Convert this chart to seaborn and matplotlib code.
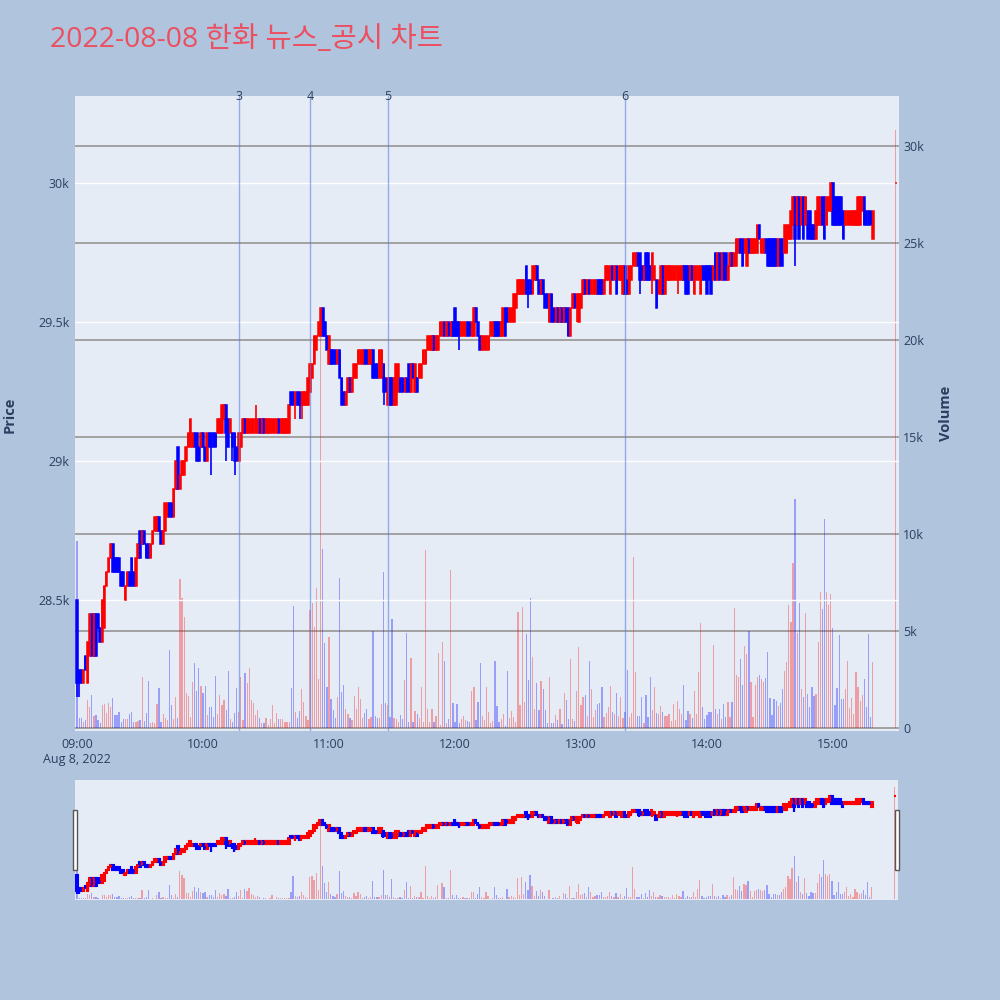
import numpy as np
import pandas as pd
import matplotlib
matplotlib.use('Agg')
import matplotlib.pyplot as plt
import matplotlib.transforms as mtransforms
import seaborn as sns
from matplotlib.patches import Rectangle

# ---- chart text / axes values ----
title = '2022-08-08 한화 뉴스_공시 차트'
hour_ticks = [0, 60, 120, 180, 240, 300, 360]
hour_labels = ['09:00\nAug 8, 2022', '10:00', '11:00', '12:00', '13:00', '14:00', '15:00']
price_ticks = [28500, 29000, 29500, 30000]
price_labels = ['28.5k', '29k', '29.5k', '30k']
vol_ticks = [0, 5000, 10000, 15000, 20000, 25000, 30000]
vol_labels = ['0', '5k', '10k', '15k', '20k', '25k', '30k']
news_minutes = [77, 111, 148, 261]
news_labels = ['3', '4', '5', '6']

# ---- 1-minute candles from 09:00 (minute 0) ----
opens = [
    28500, 28250, 28250, 28200, 28300, 28200, 28300, 28450, 28300, 28450,
    28450, 28400, 28350, 28400, 28550, 28600, 28650, 28700, 28650, 28650,
    28650, 28600, 28600, 28500, 28550, 28600, 28650, 28600, 28550, 28650,
    28750, 28700, 28750, 28700, 28700, 28650, 28700, 28750, 28750, 28800,
    28750, 28700, 28750, 28800, 28850, 28850, 28800, 28900, 29050, 28900,
    28950, 28950, 29000, 29050, 29050, 29050, 29100, 29100, 29050, 29050,
    29100, 29050, 29000, 29100, 29100, 29100, 29100, 29100, 29100, 29100,
    29150, 29200, 29150, 29100, 29100, 29100, 29050, 29000, 29050, 29100,
    29150, 29100, 29100, 29100, 29100, 29100, 29100, 29150, 29100, 29150,
    29100, 29100, 29100, 29100, 29100, 29100, 29150, 29100, 29100, 29100,
    29100, 29100, 29250, 29250, 29200, 29250, 29250, 29200, 29200, 29200,
    29200, 29250, 29300, 29350, 29400, 29450, 29450, 29550, 29500, 29450,
    29350, 29400, 29400, 29400, 29350, 29400, 29300, 29250, 29200, 29250,
    29300, 29250, 29300, 29300, 29350, 29350, 29350, 29400, 29400, 29350,
    29350, 29400, 29350, 29350, 29300, 29300, 29350, 29300, 29200, 29300,
    29300, 29200, 29200, 29250, 29300, 29300, 29250, 29300, 29350, 29250,
    29350, 29250, 29300, 29300, 29300, 29350, 29350, 29400, 29400, 29400,
    29450, 29400, 29400, 29450, 29450, 29500, 29450, 29500, 29450, 29500,
    29550, 29500, 29500, 29450, 29450, 29450, 29500, 29500, 29450, 29450,
    29550, 29500, 29450, 29400, 29400, 29400, 29400, 29450, 29450, 29500,
    29500, 29500, 29450, 29450, 29550, 29550, 29500, 29500, 29500, 29550,
    29600, 29600, 29600, 29600, 29700, 29650, 29650, 29600, 29650, 29700,
    29650, 29600, 29650, 29600, 29600, 29500, 29600, 29550, 29500, 29550,
    29500, 29550, 29500, 29550, 29550, 29450, 29550, 29600, 29550, 29500,
    29550, 29600, 29650, 29600, 29650, 29600, 29600, 29600, 29650, 29650,
    29650, 29600, 29650, 29650, 29600, 29700, 29650, 29700, 29650, 29650,
    29600, 29700, 29650, 29600, 29650, 29700, 29700, 29750, 29750, 29700,
    29650, 29750, 29750, 29700, 29650, 29650, 29650, 29600, 29600, 29700,
    29600, 29650, 29650, 29650, 29650, 29650, 29650, 29650, 29650, 29700,
    29700, 29700, 29650, 29700, 29600, 29650, 29650, 29600, 29700, 29700,
    29700, 29700, 29700, 29650, 29750, 29650, 29750, 29650, 29750, 29750,
    29650, 29700, 29750, 29700, 29700, 29750, 29800, 29800, 29750, 29700,
    29800, 29750, 29750, 29750, 29750, 29850, 29750, 29750, 29800, 29800,
    29800, 29800, 29800, 29800, 29700, 29800, 29800, 29750, 29750, 29800,
    29800, 29850, 29950, 29850, 29950, 29850, 29950, 29850, 29900, 29900,
    29850, 29850, 29800, 29850, 29850, 29950, 29950, 29850, 29900, 29900,
    30000, 29950, 29950, 29950, 29950, 29900, 29850, 29850, 29850, 29850,
    29850, 29850, 29850, 29850, 29900, 29950, 29900, 29900, 29900, 29800,
]
closes = [
    28200, 28200, 28200, 28250, 28250, 28350, 28450, 28300, 28450, 28300,
    28400, 28350, 28500, 28550, 28600, 28650, 28700, 28600, 28600, 28600,
    28600, 28550, 28550, 28550, 28600, 28550, 28550, 28550, 28650, 28700,
    28650, 28750, 28700, 28650, 28650, 28700, 28750, 28800, 28800, 28750,
    28700, 28750, 28850, 28850, 28800, 28800, 28900, 29000, 28900, 28950,
    29000, 29000, 29050, 29100, 29150, 29100, 29050, 29000, 29000, 29100,
    29050, 29000, 29100, 29050, 29050, 29050, 29050, 29150, 29150, 29200,
    29200, 29100, 29050, 29150, 29050, 29000, 29000, 29100, 29100, 29150,
    29100, 29150, 29150, 29150, 29150, 29150, 29150, 29100, 29150, 29100,
    29150, 29150, 29150, 29150, 29150, 29150, 29100, 29150, 29150, 29150,
    29150, 29200, 29200, 29200, 29250, 29200, 29200, 29250, 29250, 29250,
    29300, 29350, 29350, 29450, 29450, 29500, 29550, 29450, 29450, 29400,
    29450, 29350, 29350, 29350, 29400, 29300, 29200, 29200, 29250, 29300,
    29250, 29300, 29350, 29350, 29400, 29400, 29400, 29350, 29350, 29400,
    29400, 29300, 29300, 29300, 29400, 29400, 29250, 29250, 29300, 29200,
    29200, 29300, 29350, 29350, 29250, 29250, 29300, 29250, 29250, 29350,
    29300, 29350, 29250, 29350, 29350, 29400, 29400, 29450, 29450, 29450,
    29400, 29450, 29450, 29500, 29500, 29450, 29500, 29450, 29500, 29450,
    29450, 29450, 29450, 29500, 29500, 29500, 29450, 29450, 29500, 29550,
    29500, 29450, 29400, 29450, 29450, 29450, 29450, 29500, 29500, 29450,
    29450, 29450, 29500, 29550, 29450, 29500, 29550, 29550, 29600, 29600,
    29650, 29650, 29650, 29650, 29600, 29600, 29600, 29700, 29700, 29650,
    29600, 29650, 29600, 29550, 29550, 29600, 29500, 29500, 29550, 29500,
    29550, 29500, 29550, 29500, 29450, 29550, 29600, 29550, 29600, 29600,
    29600, 29650, 29600, 29650, 29600, 29650, 29650, 29650, 29600, 29600,
    29600, 29650, 29700, 29700, 29700, 29650, 29700, 29600, 29700, 29700,
    29700, 29600, 29600, 29700, 29700, 29750, 29750, 29700, 29650, 29650,
    29700, 29650, 29650, 29650, 29750, 29700, 29550, 29650, 29700, 29600,
    29700, 29700, 29700, 29700, 29700, 29700, 29700, 29700, 29700, 29650,
    29600, 29600, 29700, 29650, 29700, 29700, 29700, 29700, 29650, 29650,
    29600, 29650, 29600, 29700, 29650, 29750, 29650, 29750, 29650, 29650,
    29700, 29750, 29700, 29750, 29800, 29800, 29750, 29700, 29800, 29800,
    29750, 29800, 29800, 29800, 29850, 29800, 29800, 29800, 29750, 29700,
    29700, 29700, 29700, 29700, 29800, 29700, 29700, 29850, 29850, 29850,
    29900, 29950, 29800, 29950, 29800, 29950, 29800, 29950, 29800, 29800,
    29800, 29800, 29900, 29950, 29950, 29850, 29800, 29950, 29950, 30000,
    29850, 29850, 29850, 29850, 29850, 29800, 29900, 29900, 29900, 29900,
    29900, 29900, 29950, 29950, 29950, 29850, 29850, 29850, 29850, 29900,
]
volumes = [
    9640, 500, 500, 330, 400, 1440, 1100, 1700, 620, 670,
    410, 240, 1190, 1240, 760, 1270, 1100, 1530, 650, 650,
    810, 330, 450, 480, 450, 720, 810, 330, 330, 360,
    410, 2650, 360, 760, 2440, 240, 330, 240, 1240, 2040,
    330, 720, 500, 410, 4020, 1170, 450, 1610, 530, 7660,
    6680, 5740, 1820, 1650, 550, 2370, 3330, 1910, 3080, 2160,
    1790, 2160, 650, 1100, 1100, 580, 2680, 700, 1700, 1190,
    1440, 930, 2950, 450, 330, 760, 2040, 840, 2650, 410,
    2820, 2340, 3080, 1440, 1270, 670, 930, 530, 240, 270,
    500, 150, 450, 1190, 240, 760, 450, 450, 480, 290,
    290, 290, 2040, 6300, 810, 530, 890, 2010, 1320, 620,
    410, 6080, 6420, 5220, 7200, 2510, 21500, 9210, 4360, 2130,
    4710, 1480, 930, 530, 1580, 7750, 1870, 2220, 1000, 720,
    530, 410, 1650, 1000, 2130, 1480, 500, 790, 1000, 450,
    580, 5000, 620, 530, 530, 1240, 8060, 1270, 1190, 580,
    5600, 530, 480, 330, 670, 450, 2470, 4880, 330, 3590,
    330, 880, 720, 530, 2130, 330, 9170, 1000, 330, 1000,
    330, 620, 3880, 140, 4420, 3450, 270, 450, 8140, 1310,
    290, 1240, 270, 480, 620, 410, 380, 330, 1910, 2130,
    410, 1360, 3330, 620, 410, 2100, 840, 240, 380, 3450,
    1130, 330, 450, 720, 100, 2940, 530, 890, 550, 290,
    5960, 1170, 6250, 1360, 4830, 2470, 6680, 3640, 1000, 2300,
    930, 2440, 2010, 930, 240, 2610, 240, 270, 670, 410,
    1000, 190, 1820, 1440, 450, 3540, 450, 380, 1910, 4160,
    1190, 1610, 1700, 620, 3450, 2010, 580, 930, 1240, 1310,
    2100, 550, 760, 1070, 2160, 810, 720, 1820, 620, 1610,
    500, 820, 2990, 550, 760, 8830, 2870, 620, 620, 1580,
    270, 1700, 570, 2610, 930, 2100, 760, 720, 1150, 840,
    620, 620, 700, 380, 1220, 410, 1410, 980, 700, 2200,
    410, 890, 720, 530, 1920, 720, 2900, 5390, 1070, 480,
    670, 810, 810, 4300, 980, 720, 980, 460, 1220, 580,
    1320, 580, 1320, 6200, 2730, 2610, 3540, 2230, 4230, 3810,
    5000, 2370, 550, 2220, 2610, 2710, 2540, 2370, 2580, 3900,
    1550, 670, 1510, 1390, 1130, 1270, 2010, 2950, 3420, 6340,
    5480, 8520, 11800, 4880, 6460, 1990, 1610, 5910, 1770, 1070,
    2100, 1650, 1750, 4450, 7030, 6130, 10750, 7030, 6320, 6910,
    5140, 1200, 2040, 4780, 1490, 1480, 2010, 3470, 1010, 1530,
    720, 2870, 2130, 1410, 1700, 2530, 1100, 4830, 550, 3420,
]
# wicks that reach beyond the body
wick_highs = {0: 28500, 85: 29200}
wick_lows = {0: 28150, 1: 28150, 64: 28950, 71: 29000, 74: 29000, 75: 28950,
             104: 29150, 106: 29150, 107: 29150, 146: 29200, 182: 29400,
             215: 29550, 238: 29500, 268: 29600, 274: 29600, 286: 29600, 342: 29700}
# closing auction at 15:30
auction_minute = 390
auction_price = 30000
auction_volume = 30800

df = pd.DataFrame({'minute': np.arange(len(closes)), 'open': opens,
                   'close': closes, 'volume': volumes})
df.loc[len(df)] = [auction_minute, auction_price, auction_price, auction_volume]
df['high'] = df[['open', 'close']].max(axis=1)
df['low'] = df[['open', 'close']].min(axis=1)
for m, v in wick_highs.items():
    df.loc[df.minute == m, 'high'] = v
for m, v in wick_lows.items():
    df.loc[df.minute == m, 'low'] = v
df['color'] = np.where(df.close >= df.open, '#FF0000', '#0000FF')

sns.set_theme(style='white')
plt.rcParams['font.family'] = ['Open Sans', 'Noto Sans CJK KR', 'DejaVu Sans']
FONT_C = '#2a3f5f'
XLIM = (-1, 391.5)
PLIM = (28029, 30313)
VLIM = (-155, 32577)


def draw(ax_v, ax_p, body_w, body_lw, wick_lw, vol_w, vol_alpha):
    ax_v.bar(df.minute, df.volume, width=vol_w, color=df.color, alpha=vol_alpha, linewidth=0)
    ax_p.vlines(df.minute, df.low, df.high, colors=df.color, linewidth=wick_lw)
    ax_p.bar(df.minute, df.close - df.open, bottom=df.open, width=body_w,
             color=df.color, edgecolor=df.color, linewidth=body_lw)
    ax_v.set_xlim(*XLIM)
    ax_v.set_ylim(*VLIM)
    ax_p.set_ylim(*PLIM)
    for a in (ax_v, ax_p):
        for s in a.spines.values():
            s.set_visible(False)


fig = plt.figure(figsize=(10, 10), dpi=100)
fig.patch.set_facecolor('#B0C4DE')

# main chart: volume underneath, price on top
ax_v = fig.add_axes([0.075, 0.269, 0.824, 0.635])
ax_v.set_facecolor('#E5ECF6')
ax_p = ax_v.twinx()
draw(ax_v, ax_p, 0.75, 1.1, 1.2, 0.6, 0.33)

ax_v.yaxis.tick_right()
ax_p.yaxis.tick_left()
ax_v.set_yticks(vol_ticks, vol_labels)
ax_p.set_yticks(price_ticks, price_labels)
ax_v.set_xticks(hour_ticks, hour_labels)
ax_v.grid(axis='y', color='#9c9c9c', linewidth=1.3)
ax_v.grid(axis='x', visible=False)
ax_p.grid(axis='y', color='white', linewidth=1)
ax_p.grid(axis='x', visible=False)
ax_v.tick_params(axis='y', length=0, pad=3, labelsize=9, labelcolor=FONT_C)
ax_p.tick_params(axis='y', length=0, pad=4, labelsize=9, labelcolor=FONT_C)
ax_v.tick_params(axis='x', length=0, pad=5, labelsize=9, labelcolor=FONT_C)
for lbl in ax_v.get_xticklabels():
    lbl.set_multialignment('center')

# news markers
trans = mtransforms.blended_transform_factory(ax_p.transData, ax_p.transAxes)
for m, lab in zip(news_minutes, news_labels):
    ax_p.axvline(m, color='#5b7fe0', linewidth=1, alpha=0.6)
    ax_p.text(m, 0.999, lab, transform=trans, ha='center', va='center',
              fontsize=9, color=FONT_C)

fig.text(0.05, 0.96, title, fontsize=20.5, color='#EB4F60', ha='left', va='center')
fig.text(0.010, 0.585, 'Price', rotation=90, fontsize=10.5, fontweight='bold',
         color=FONT_C, ha='center', va='center')
fig.text(0.946, 0.587, 'Volume', rotation=90, fontsize=10.5, fontweight='bold',
         color=FONT_C, ha='center', va='center')

# range slider
ax_sv = fig.add_axes([0.075, 0.10, 0.823, 0.12])
ax_sv.set_facecolor('#E5ECF6')
ax_sp = ax_sv.twinx()
draw(ax_sv, ax_sp, 0.8, 1.5, 1.6, 0.6, 0.33)
for a in (ax_sv, ax_sp):
    a.set_xticks([])
    a.set_yticks([])
    a.grid(False)
for x0 in (0.073, 0.895):
    fig.patches.append(Rectangle((x0, 0.130), 0.004, 0.06, transform=fig.transFigure,
                                 facecolor='white', edgecolor='#555555', linewidth=1))

fig.savefig('out.png', dpi=100, facecolor=fig.get_facecolor())
